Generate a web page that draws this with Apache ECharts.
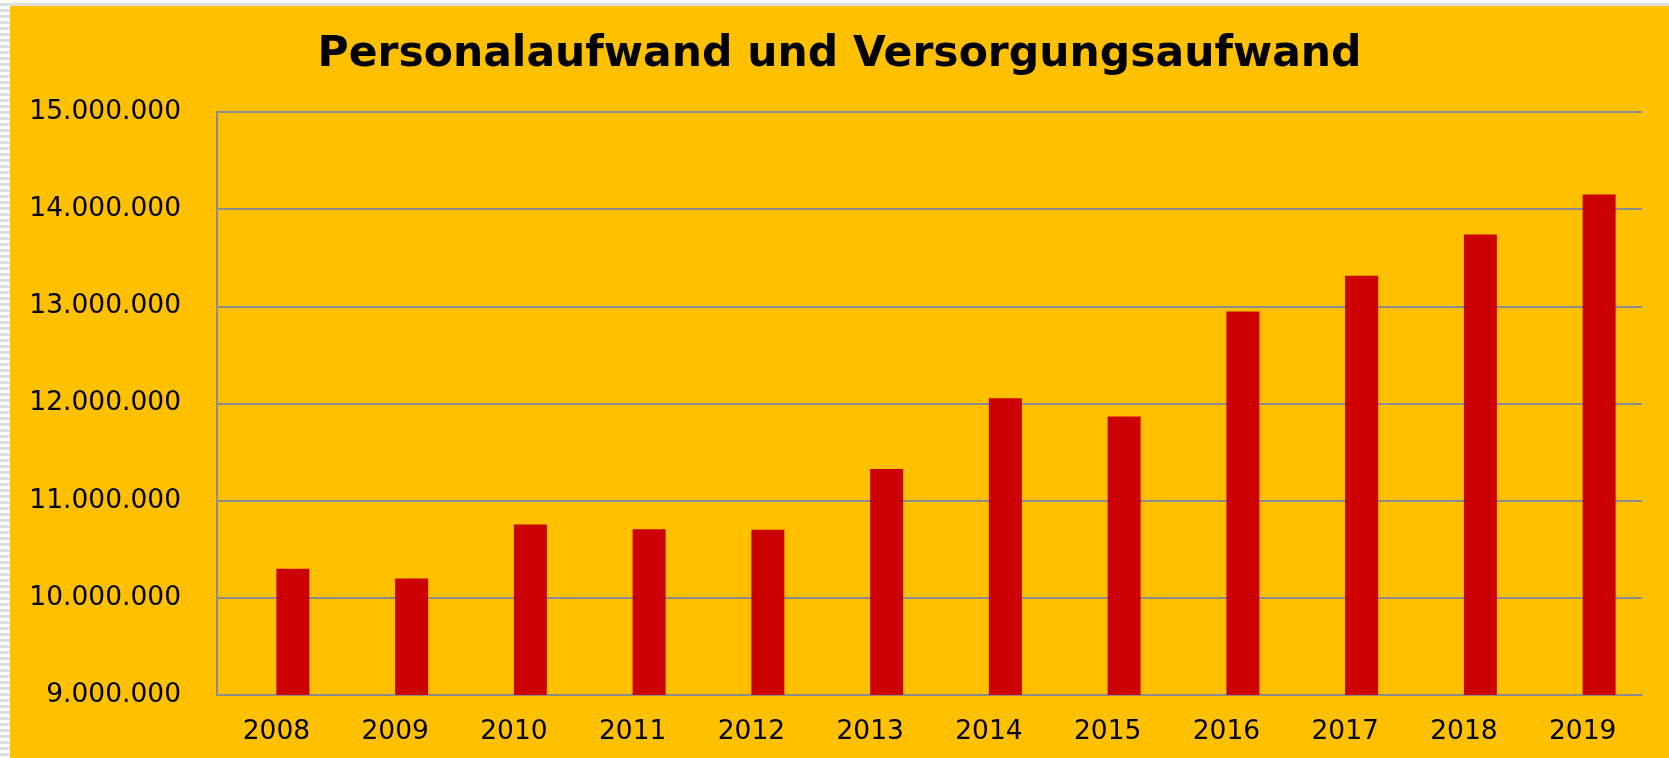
<!DOCTYPE html>
<html>
<head>
<meta charset="utf-8">
<title>Personalaufwand und Versorgungsaufwand</title>
<script src="https://cdn.jsdelivr.net/npm/echarts@6/dist/echarts.min.js"></script>
<style>
  html, body {
    margin: 0;
    padding: 0;
    width: 1669px;
    height: 758px;
    overflow: hidden;
    background: repeating-linear-gradient(180deg, #ffffff 0px, #ffffff 3px, #dedede 3px, #dedede 6px);
  }
  #main {
    position: absolute;
    left: 10px;
    top: 6px;
    width: 1659px;
    height: 752px;
    background: #ffc000;
  }
</style>
</head>
<body>
<div id="main"></div>
<script>
// Jahre
const years = ['2008', '2009', '2010', '2011', '2012', '2013', '2014', '2015', '2016', '2017', '2018', '2019']
// Personal- und Versorgungsaufwand (Euro)
const aufwand = [10300000, 10200000, 10755000, 10705000, 10700000, 11327000, 12055000, 11866000, 12948000, 13316000, 13740000, 14150000]
// erste Reihe liegt auf/unter der Achse (im Bild nicht sichtbar)
const reihe1 = [9000000, 9000000, 9000000, 9000000, 9000000, 9000000, 9000000, 9000000, '-', '-', '-', '-']
// Achsenteilung
const yMin = 9000000
const yMax = 15000000
const yStep = 1000000

const fmt = function (v) {
  return String(v).replace(/\B(?=(\d{3})+(?!\d))/g, '.')
}

var chartDom = document.getElementById('main')
var myChart = echarts.init(chartDom)
var option

option = {
  backgroundColor: '#ffc000',
  animation: false,
  title: {
    text: 'Personalaufwand und Versorgungsaufwand',
    left: 'center',
    top: 22,
    textStyle: {
      fontFamily: 'DejaVu Sans',
      fontWeight: 'bold',
      fontSize: 42.5,
      color: '#000'
    }
  },
  grid: {
    left: 207,
    right: 27,
    top: 106,
    bottom: 63
  },
  xAxis: {
    type: 'category',
    data: years,
    axisTick: { show: false },
    axisLine: {
      lineStyle: { color: '#8c8c8c', width: 2 }
    },
    axisLabel: {
      margin: 24,
      color: '#000',
      fontFamily: 'DejaVu Sans',
      fontSize: 26.5
    }
  },
  yAxis: {
    type: 'value',
    min: yMin,
    max: yMax,
    interval: yStep,
    axisLine: {
      show: true,
      lineStyle: { color: '#8c8c8c', width: 2 }
    },
    axisTick: { show: false },
    splitLine: {
      lineStyle: { color: '#8c8c8c', width: 2 }
    },
    axisLabel: {
      margin: 36,
      color: '#000',
      fontFamily: 'DejaVu Sans',
      fontSize: 26.5,
      formatter: fmt
    }
  },
  series: [
    {
      name: 'Reihe 1',
      type: 'bar',
      barWidth: 33,
      barGap: '0%',
      clip: true,
      itemStyle: { color: '#8fa3c4' },
      data: reihe1
    },
    {
      name: 'Personal- und Versorgungsaufwand',
      type: 'bar',
      barWidth: 33,
      barGap: '0%',
      z: 3,
      itemStyle: { color: '#cc0000' },
      data: aufwand
    }
  ]
}

option && myChart.setOption(option)
</script>
</body>
</html>
